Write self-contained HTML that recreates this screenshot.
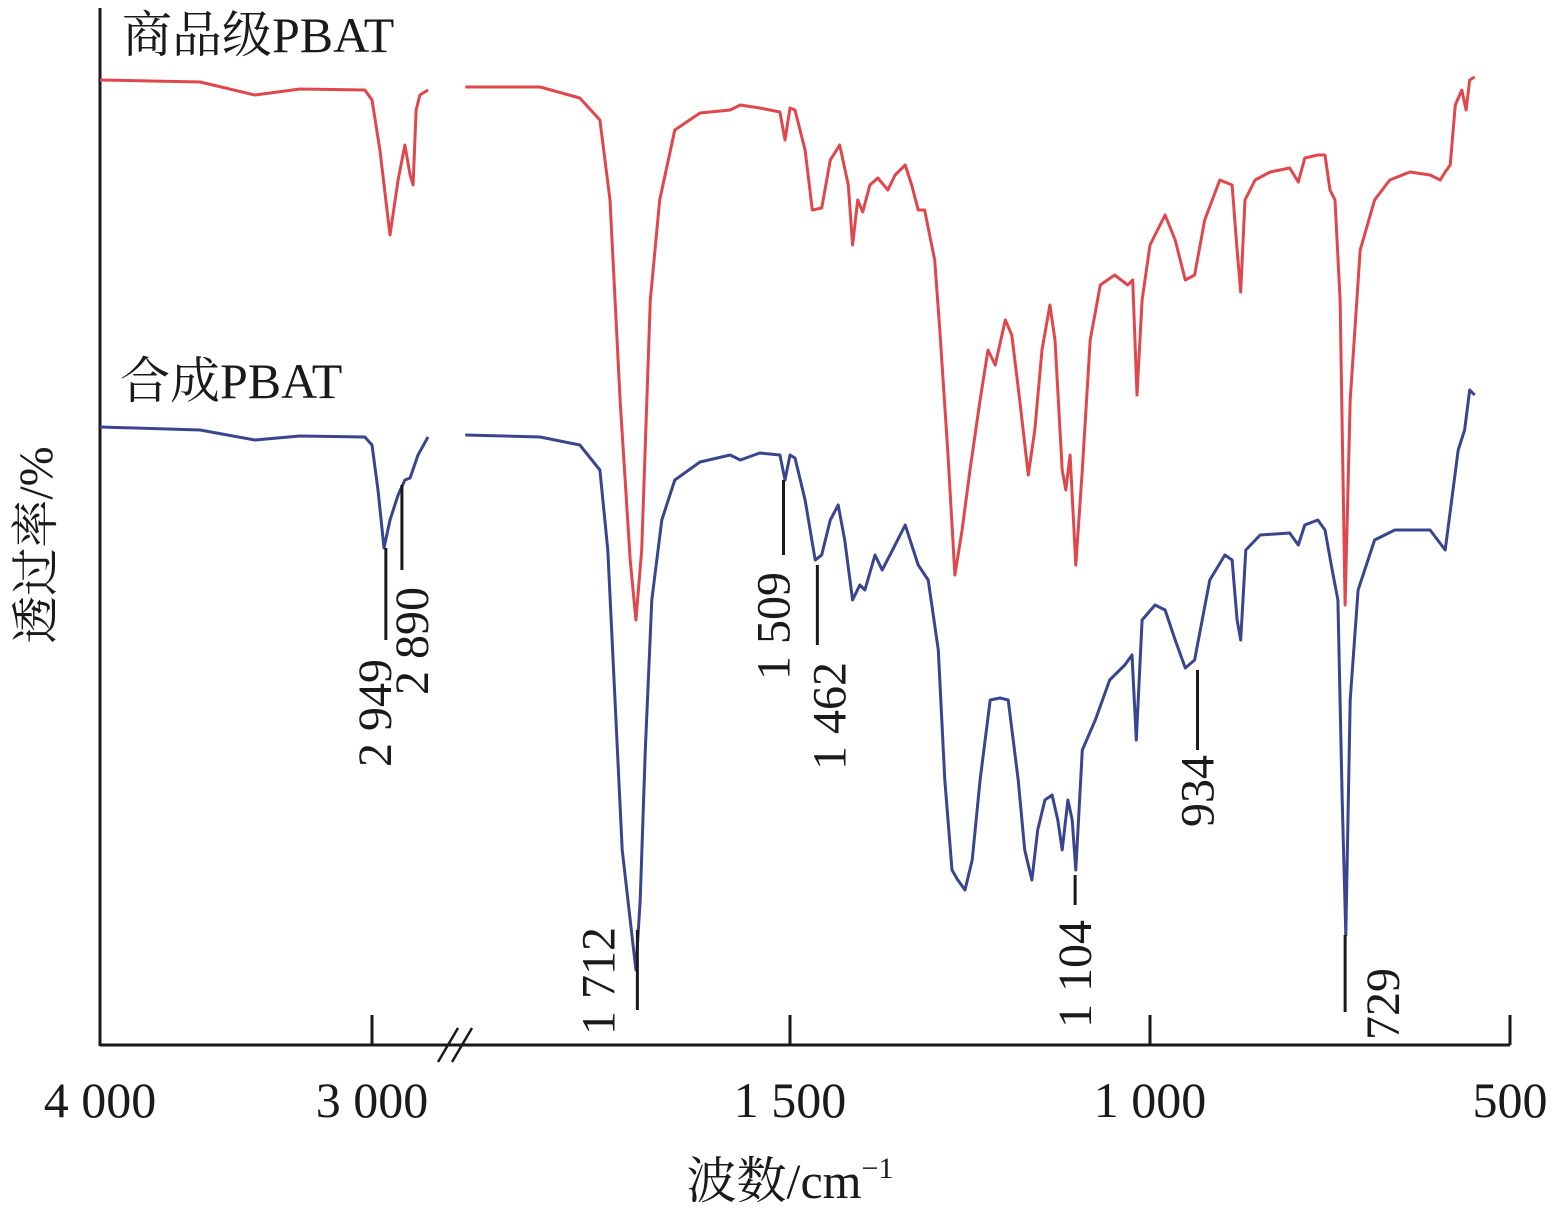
<!DOCTYPE html>
<html><head><meta charset="utf-8"><style>
html,body{margin:0;padding:0;background:#fff}
svg{display:block}
text{font-family:"Liberation Serif","Noto Serif CJK SC",serif;fill:#1a1a1a}
</style></head><body>
<svg id="chart" width="1553" height="1210" viewBox="0 0 1553 1210" xmlns="http://www.w3.org/2000/svg">
<g id="axes" stroke="#1a1a1a" stroke-width="3" fill="none">
<line x1="100" y1="8" x2="100" y2="1046"/>
<line x1="100" y1="1045" x2="1510" y2="1045"/>
<line x1="438" y1="1062" x2="458" y2="1028" stroke-width="2.5"/>
<line x1="452" y1="1062" x2="472" y2="1028" stroke-width="2.5"/>
</g>
<g id="ticks"></g>
<g id="series"></g>
<g id="annots"></g>
<text x="122" y="52" font-size="50">商品级PBAT</text>
<text x="120" y="398" font-size="50">合成PBAT</text>
<text x="790" y="1198" font-size="50" text-anchor="middle">波数/cm<tspan font-size="30" dy="-20">−1</tspan></text>
<text transform="translate(52,545) rotate(-90)" font-size="48" text-anchor="middle">透过率/%</text>
</svg>
<script>
const tickValues=[4000,3000,1500,1000,500];
const tickLabels=["4 000","3 000","1 500","1 000","500"];
const redWave=[4000,3632,3430,3265,3026,3000,2971,2934,2904,2879,2860,2849,2838,2824,2794,
1951,1847,1792,1764,1750,1736,1722,1714,1706,1694,1681,1660,1625,1583,1569,1542,1514,1507,1500,1493,1479,1469,1456,1444,1431,1419,1413,1406,1399,1389,1378,1364,1354,1340,1331,1322,1313,1299,1292,1281,1271,1261,1250,1236,1225,1215,1201,1192,1181,1169,1160,1150,1139,1132,1122,1117,1111,1103,1094,1083,1069,1049,1031,1024,1018,1011,1000,979,965,951,938,924,903,886,879,874,868,854,833,806,794,785,767,757,750,743,736,729,722,708,688,667,639,611,597,590,583,576,567,561,556,549];
const redT=[96.5,96.3,95,95.6,95.5,94.5,89.5,81,86.5,90,87,86,93.5,95,95.5,
95.8,95.8,94.7,92.5,84.5,64.5,48.5,42.5,49.5,74.5,84.5,91.5,93.2,93.5,94,93.7,93.3,90.5,93.7,93.5,89.5,83.5,83.7,88.5,90,86,80,84.5,83.3,86,86.7,85.5,87,88,86,83.5,83.5,78.5,71.5,59.5,47,51.5,57.5,64.5,69.5,68,72.5,71,64.5,57,61.5,69.5,74,70.5,57.5,55.5,59,48,57.5,70.5,76,77,76,76.5,65,74.5,80,83,80.5,76.5,77,82.5,86.5,86,79.5,75.3,84.5,86.5,87.3,87.7,86.3,88.7,89,89,85.5,84.5,74.5,44,64.5,79.5,84.5,86.5,87.3,87,86.5,87.3,88,94,95.5,93.5,96.5,96.8];
const blueWave=[4000,3632,3430,3265,3026,3000,2978,2956,2934,2904,2879,2860,2831,2794,
1951,1847,1792,1764,1753,1743,1733,1722,1714,1708,1701,1692,1678,1660,1625,1583,1569,1542,1514,1507,1500,1493,1479,1465,1456,1444,1433,1424,1413,1403,1396,1382,1372,1354,1340,1331,1322,1308,1294,1285,1275,1267,1257,1247,1236,1222,1208,1197,1183,1174,1164,1156,1146,1136,1128,1122,1114,1108,1103,1094,1076,1056,1035,1025,1019,1011,993,979,965,951,938,917,896,886,879,874,867,847,806,794,785,767,757,747,739,733,728,722,711,688,660,632,611,590,581,572,563,556,549];
const blueT=[61.8,61.5,60.5,60.9,60.8,60,55.5,49.7,52.5,55,56.5,56.7,59,60.8,
61,60.8,60,57.5,49.5,34.5,19.5,12.5,7.5,14.5,29.5,44.5,52.5,56.5,58.3,59,58.5,59.2,59,56.5,59,58.7,54.5,48.5,49,52.5,54,50.5,44.5,46,45.5,49,47.5,50,52,50,48,46.5,39.5,26.5,17.5,16.5,15.5,18.5,26.5,34.5,34.7,34.5,26.5,19.5,16.5,21.5,24.5,25,22.5,19.5,24.5,22.5,17.5,29.5,32.5,36.5,38,39,30.5,42.5,44,43.5,40.5,37.7,38.5,46.5,49,48.5,42.5,40.5,49.5,51,51.2,50,52,52.5,51.5,47.5,44.5,24.5,11,34.5,45.5,50.5,51.5,51.5,51.5,49.5,54.5,59.5,61.5,65.5,65];
const annWave=[2949,2890,1712,1509,1462,1104,934,729];
const annLabels=["2 949","2 890","1 712","1 509","1 462","1 104","934","729"];
const annLineTop=[49.7,56,11.5,56.5,48,17,37.5,11];
const annLineBot=[40.5,47.5,3.5,49,40,14,29.5,3.3];
const annTextSide=[-1,1,-1,-1,1,0,0,1];
const NS="http://www.w3.org/2000/svg";
function xScale(w){return w>=2500?100+(4000-w)*0.272:790+(1500-w)*0.72;}
function yScale(t){return 1045-t*10;}
function mk(tag,attrs){const e=document.createElementNS(NS,tag);for(const k in attrs)e.setAttribute(k,attrs[k]);return e;}
const ticks=document.getElementById('ticks');
tickValues.forEach((v,i)=>{
  const x=xScale(v);
  if(i>0){const l=mk('line',{x1:x,y1:1015,x2:x,y2:1045,stroke:'#1a1a1a','stroke-width':3});
  
  
  ticks.appendChild(l);}
  const t=mk('text',{x:x,y:1117,'font-size':50,'text-anchor':'middle'});
  
  
  t.textContent=tickLabels[i];ticks.appendChild(t);
});
function pathFor(W,T){let d='';for(let i=0;i<W.length;i++){const br=i>0&&W[i-1]>=2500&&W[i]<2500;d+=(i===0||br?'M':'L')+xScale(W[i]).toFixed(1)+' '+yScale(T[i]).toFixed(1)+' ';}return d;}
const ser=document.getElementById('series');
const pr=mk('path',{d:pathFor(redWave,redT),fill:'none',stroke:'#e0474c','stroke-width':3,'stroke-linejoin':'round'});


ser.appendChild(pr);
const pb=mk('path',{d:pathFor(blueWave,blueT),fill:'none',stroke:'#3a4590','stroke-width':3,'stroke-linejoin':'round'});


ser.appendChild(pb);
const an=document.getElementById('annots');
annWave.forEach((w,i)=>{
  const x=xScale(w);
  const y1=yScale(annLineTop[i]),y2=yScale(annLineBot[i]);
  const l=mk('line',{x1:x,y1:y1,x2:x,y2:y2,stroke:'#1a1a1a','stroke-width':3});
  
  
  an.appendChild(l);
  const len=annLabels[i].length*23;
  let tx,ty;
  if(annTextSide[i]===0){tx=x+16;ty=y2+8+len;}
  else if(annTextSide[i]<0){tx=x-12+ (i===0?0:0);ty=(i===2)?y2+25:y2+10+len;}
  else{tx=x+44;ty=(i===7)?y1+100:y2+10+len;}
  if(i===0){tx=x+5;ty=y2+12+len;}
  if(i===1){tx=x+26;ty=y2+10+len;}
  if(i===2){tx=x-23;ty=y2+25;}
  if(i===3){tx=x+6;ty=y2+10+len;}
  if(i===4){tx=x+28;ty=y2+10+len;}
  if(i===7){tx=x+54;ty=y2+28;}
  const t=mk('text',{transform:`translate(${tx},${ty}) rotate(-90)`,'font-size':48});
  
  
  t.textContent=annLabels[i];an.appendChild(t);
});
</script>
</body></html>
